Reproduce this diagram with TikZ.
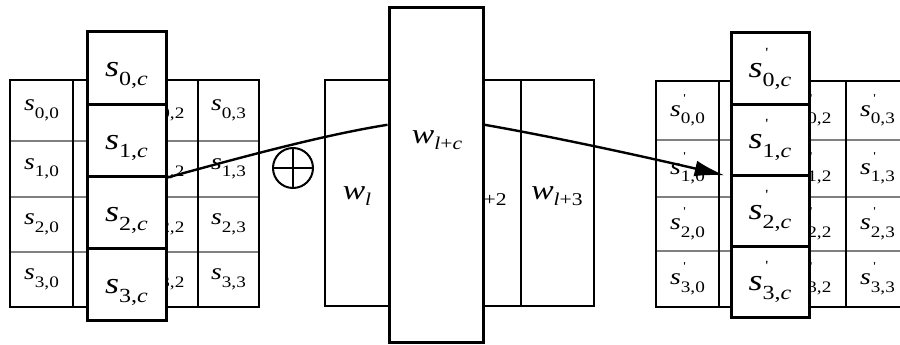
\documentclass[tikz,border=0pt]{standalone}
\usepackage{fontspec}
\setmainfont{Liberation Serif}
\usepackage{graphicx}
\usetikzlibrary{arrows.meta,calc}
\newcommand\Ls[1]{\scalebox{1.2}[1]{\fontsize{23}{23}\selectfont\textit{s}\raisebox{-7.5pt}{\fontsize{16}{16}\selectfont #1}}}
\newcommand\Lsp[1]{\scalebox{1.2}[1]{\fontsize{23}{23}\selectfont\textit{s}\rlap{\raisebox{14pt}{\fontsize{12}{12}\selectfont\,\textquotesingle}}\raisebox{-7.5pt}{\fontsize{16}{16}\selectfont #1}}}
\newcommand\Lc[1]{\scalebox{1.2}[1]{\fontsize{30}{30}\selectfont\textit{s}\raisebox{-9pt}{\fontsize{20}{20}\selectfont #1}}}
\newcommand\Lcp[1]{\scalebox{1.2}[1]{\fontsize{30}{30}\selectfont\textit{s}\rlap{\raisebox{20pt}{\fontsize{14}{14}\selectfont\,\textquotesingle}}\raisebox{-9pt}{\fontsize{20}{20}\selectfont #1}}}
\newcommand\Lw[1]{\scalebox{1.2}[1]{\fontsize{28}{28}\selectfont\textit{w}\raisebox{-6pt}{\fontsize{18}{18}\selectfont #1}}}
\begin{document}
\begin{tikzpicture}[x=1pt,y=-1pt,
  txt/.style={inner sep=0pt},
  cbox/.style={draw, fill=white, line width=3pt, inner sep=0pt},
  ctext/.style={text height=18pt, text depth=0pt},
  outer/.style={line width=2.6pt},
  rowline/.style={line width=2pt, black!50},
  colline/.style={line width=1.4pt},
  conn/.style={line width=2.4pt},
]
\useasboundingbox (0,0) rectangle (900,345);
\clip (0,0) rectangle (900,345);

% ---------- left state grid ----------
\foreach \r/\y in {0/110.5,1/169,2/224.5,3/279.5}{
  \node[txt] (ls\r0) at (41.5,\y) {\Ls{\r,0}};
  \node[txt] (ls\r2) at (167,\y) {\Ls{\r,2}};
  \node[txt] (ls\r3) at (228.5,\y) {\Ls{\r,3}};
}
\foreach \y in {141,197,252} \draw[rowline] (10,\y) -- (259,\y);
\foreach \x in {73,198} \draw[colline] (\x,80) -- (\x,307);
\draw[outer] (10,80) rectangle (259,307);

% ---------- right state grid ----------
\foreach \r/\y in {0/110.5,1/168.5,2/224,3/279}{
  \node[txt] (rs\r0) at (687.5,\y) {\Lsp{\r,0}};
  \node[txt] (rs\r2) at (814,\y) {\Lsp{\r,2}};
  \node[txt] (rs\r3) at (877.5,\y) {\Lsp{\r,3}};
}
\foreach \y in {140,197,251} \draw[rowline] (656,\y) -- (910,\y);
\foreach \x in {719,846} \draw[colline] (\x,81) -- (\x,307);
\draw[outer] (910,81) -- (656,81) -- (656,307) -- (910,307);

% ---------- key words ----------
\node[txt] (wl) at (357,196) {\Lw{\textit{l}}};
\node[txt] (wl2) at (481,196) {\Lw{\textit{l}+2}};
\node[txt] (wl3) at (557,196) {\Lw{\textit{l}+3}};
\draw[colline] (521,80) -- (521,306);
\draw[outer] (325,80) rectangle (594,306);

% ---------- highlighted column boxes ----------
\foreach \r/\y in {0/68,1/140,2/212,3/284}
  \node[cbox, ctext, minimum width=79pt, minimum height=72pt] (lc\r) at (126.5,\y) {\Lc{\r,\textit{c}}};
\foreach \r/\y in {0/68.5,1/139.5,2/210.5,3/281.5}
  \node[cbox, ctext, minimum width=78pt, minimum height=71pt] (rc\r) at (770,\y) {\Lcp{\r,\textit{c}}};
\node[cbox, minimum width=94pt, minimum height=334pt] (big) at (436,175) {};
\node[txt] (bigl) at (437,140) {\Lw{\textit{l}+\textit{c}}};

% ---------- xor and connectors ----------
\node[circle, draw, line width=2pt, minimum size=40pt, inner sep=0pt,
  path picture={\draw[line width=2pt] (path picture bounding box.north) -- (path picture bounding box.south)
                 (path picture bounding box.west) -- (path picture bounding box.east);}] (xor) at (293,168) {};
\draw[conn] (lc1.south east) .. controls (260,152) and (330,134) .. (big.134);
\draw[conn, -{Latex[length=30pt,width=16pt]}, shorten >=5pt] (big.46) .. controls (560,138) and (650,158) .. (rc1.south west);
\end{tikzpicture}
\end{document}
